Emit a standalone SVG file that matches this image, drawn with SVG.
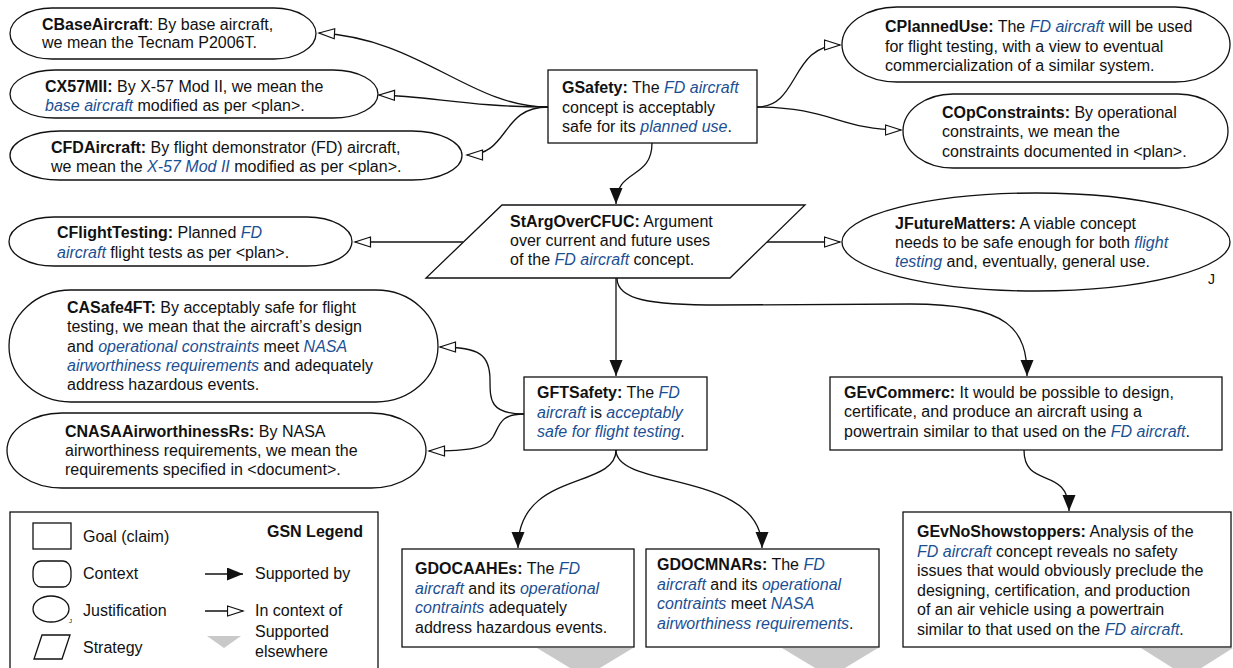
<svg xmlns="http://www.w3.org/2000/svg" width="1233" height="668" viewBox="0 0 1233 668">
<style>
.t{font-family:"Liberation Sans",Arial,Helvetica,sans-serif;font-size:16px;fill:#111}
.b{font-weight:bold}
.i{font-style:italic;fill:#1b4f93}
.n{fill:#fff;stroke:#111;stroke-width:1.3}
.c{fill:none;stroke:#111;stroke-width:1.3}
.g{fill:#c9c9c9;stroke:none}
.s{marker-end:url(#fa)}
.x{marker-end:url(#oa)}
</style>
<defs>
<marker id="fa" markerUnits="userSpaceOnUse" markerWidth="18" markerHeight="15" refX="16" refY="6.5" orient="auto"><path d="M0,0 L16,6.5 L0,13 z" fill="#111"/></marker>
<marker id="oa" markerUnits="userSpaceOnUse" markerWidth="19" markerHeight="13" refX="16.5" refY="6" orient="auto"><path d="M1,1 L16.5,6 L1,11 z" fill="#fff" stroke="#111" stroke-width="1.2"/></marker>
</defs>
<rect width="1233" height="668" fill="#fff"/>

<g id="connectors">
<path class="c x" d="M548,107 C470,107 420,38 319,33"/>
<path class="c x" d="M548,107 C470,107 430,96 379,95"/>
<path class="c x" d="M548,107 C500,107 510,155 467,155"/>
<path class="c x" d="M757,107 C800,107 790,45 840,45"/>
<path class="c x" d="M757,107 C830,107 840,130 901,130"/>
<path class="c s" d="M652,143 C652,180 616,168 616,204"/>
<path class="c x" d="M463,242 L355,242"/>
<path class="c x" d="M767,242 L840,242"/>
<path class="c s" d="M616,278 L616,376"/>
<path class="c s" d="M617,278 C617,300 650,305 720,305 L910,304 C1010,304 1027,330 1027,376"/>
<path class="c x" d="M524,414 C490,414 490,400 490,380 C490,355 480,347 440,347"/>
<path class="c x" d="M524,414 C500,414 500,425 493,437 C487,448 470,451 429,451"/>
<path class="c s" d="M616,450 C616,490 518,470 518,548"/>
<path class="c s" d="M616,450 C616,490 762,470 762,548"/>
<path class="c s" d="M1024,450 C1024,490 1069,465 1069,511"/>
</g>

<g id="CBaseAircraft">
<rect class="n" x="10" y="8" width="306" height="51" rx="42" ry="25.5"/>
<text class="t" x="42" y="30"><tspan class="b">CBaseAircraft</tspan>: By base aircraft,</text>
<text class="t" x="42" y="48">we mean the Tecnam P2006T.</text>
</g>

<g id="CX57MII">
<rect class="n" x="10" y="70" width="368" height="48" rx="45" ry="24"/>
<text class="t" x="45" y="92"><tspan class="b">CX57MII:</tspan> By X-57 Mod II, we mean the</text>
<text class="t" x="45" y="111"><tspan class="i">base aircraft</tspan> modified as per &lt;plan&gt;.</text>
</g>

<g id="CFDAircraft">
<rect class="n" x="10" y="131" width="452" height="49" rx="50" ry="24.5"/>
<text class="t" x="51" y="153"><tspan class="b">CFDAircraft:</tspan> By flight demonstrator (FD) aircraft,</text>
<text class="t" x="51" y="172">we mean the <tspan class="i">X-57 Mod II</tspan> modified as per &lt;plan&gt;.</text>
</g>

<g id="GSafety">
<rect class="n" x="548" y="70" width="209" height="73"/>
<text class="t" x="562" y="93"><tspan class="b">GSafety:</tspan> The <tspan class="i">FD aircraft</tspan></text>
<text class="t" x="562" y="113">concept is acceptably</text>
<text class="t" x="562" y="132">safe for its <tspan class="i">planned use</tspan>.</text>
</g>

<g id="CPlannedUse">
<rect class="n" x="842" y="7" width="388" height="75" rx="55" ry="37.5"/>
<text class="t" x="885" y="32"><tspan class="b">CPlannedUse:</tspan> The <tspan class="i">FD aircraft</tspan> will be used</text>
<text class="t" x="885" y="52">for flight testing, with a view to eventual</text>
<text class="t" x="885" y="71">commercialization of a similar system.</text>
</g>

<g id="COpConstraints">
<rect class="n" x="903" y="94" width="325" height="74" rx="50" ry="37"/>
<text class="t" x="942" y="118"><tspan class="b">COpConstraints:</tspan> By operational</text>
<text class="t" x="942" y="137">constraints, we mean the</text>
<text class="t" x="942" y="157">constraints documented in &lt;plan&gt;.</text>
</g>

<g id="StArgOverCFUC">
<polygon class="n" points="502,205 805,205 730,278 426,278"/>
<text class="t" x="510" y="227"><tspan class="b">StArgOverCFUC:</tspan> Argument</text>
<text class="t" x="510" y="246">over current and future uses</text>
<text class="t" x="510" y="265">of the <tspan class="i">FD aircraft</tspan> concept.</text>
</g>

<g id="CFlightTesting">
<rect class="n" x="9" y="217" width="343" height="49" rx="45" ry="24.5"/>
<text class="t" x="57" y="238"><tspan class="b">CFlightTesting:</tspan> Planned <tspan class="i">FD</tspan></text>
<text class="t" x="57" y="258"><tspan class="i">aircraft</tspan> flight tests as per &lt;plan&gt;.</text>
</g>

<g id="JFutureMatters">
<ellipse class="n" cx="1036" cy="242" rx="194" ry="49"/>
<text class="t" x="895" y="229"><tspan class="b">JFutureMatters:</tspan> A viable concept</text>
<text class="t" x="895" y="248">needs to be safe enough for both <tspan class="i">flight</tspan></text>
<text class="t" x="895" y="267"><tspan class="i">testing</tspan> and, eventually, general use.</text>
<text class="t" x="1208" y="284" style="font-size:14px">J</text>
</g>

<g id="CASafe4FT">
<rect class="n" x="9" y="290" width="429" height="112" rx="62" ry="56"/>
<text class="t" x="67" y="313"><tspan class="b">CASafe4FT:</tspan> By acceptably safe for flight</text>
<text class="t" x="67" y="332">testing, we mean that the aircraft’s design</text>
<text class="t" x="67" y="352">and <tspan class="i">operational constraints</tspan> meet <tspan class="i">NASA</tspan></text>
<text class="t" x="67" y="371"><tspan class="i">airworthiness requirements</tspan> and adequately</text>
<text class="t" x="67" y="390">address hazardous events.</text>
</g>

<g id="CNASAAirworthinessRs">
<rect class="n" x="7" y="413" width="419" height="75" rx="55" ry="37.5"/>
<text class="t" x="65" y="437"><tspan class="b">CNASAAirworthinessRs:</tspan> By NASA</text>
<text class="t" x="65" y="456">airworthiness requirements, we mean the</text>
<text class="t" x="65" y="475">requirements specified in &lt;document&gt;.</text>
</g>

<g id="GFTSafety">
<rect class="n" x="524" y="377" width="183" height="73"/>
<text class="t" x="537" y="398"><tspan class="b">GFTSafety:</tspan> The <tspan class="i">FD</tspan></text>
<text class="t" x="537" y="418"><tspan class="i">aircraft</tspan> is <tspan class="i">acceptably</tspan></text>
<text class="t" x="537" y="437"><tspan class="i">safe for flight testing</tspan>.</text>
</g>

<g id="GEvCommerc">
<rect class="n" x="830" y="377" width="392" height="73"/>
<text class="t" x="844" y="398"><tspan class="b">GEvCommerc:</tspan> It would be possible to design,</text>
<text class="t" x="844" y="417">certificate, and produce an aircraft using a</text>
<text class="t" x="844" y="437">powertrain similar to that used on the <tspan class="i">FD aircraft</tspan>.</text>
</g>

<g id="GDOCAAHEs">
<polygon class="g" points="537,648 633,648 585,677"/>
<rect class="n" x="402" y="549" width="232" height="98"/>
<text class="t" x="415" y="574"><tspan class="b">GDOCAAHEs:</tspan> The <tspan class="i">FD</tspan></text>
<text class="t" x="415" y="594"><tspan class="i">aircraft</tspan> and its <tspan class="i">operational</tspan></text>
<text class="t" x="415" y="613"><tspan class="i">contraints</tspan> adequately</text>
<text class="t" x="415" y="633">address hazardous events.</text>
</g>

<g id="GDOCMNARs">
<polygon class="g" points="782,648 878,648 830,677"/>
<rect class="n" x="646" y="549" width="233" height="98"/>
<text class="t" x="657" y="570"><tspan class="b">GDOCMNARs:</tspan> The <tspan class="i">FD</tspan></text>
<text class="t" x="657" y="590"><tspan class="i">aircraft</tspan> and its <tspan class="i">operational</tspan></text>
<text class="t" x="657" y="609"><tspan class="i">contraints</tspan> meet <tspan class="i">NASA</tspan></text>
<text class="t" x="657" y="629"><tspan class="i">airworthiness requirements</tspan>.</text>
</g>

<g id="GEvNoShowstoppers">
<polygon class="g" points="1141,648 1233,648 1187,677"/>
<rect class="n" x="903" y="512" width="328" height="135"/>
<text class="t" x="917" y="537"><tspan class="b">GEvNoShowstoppers:</tspan> Analysis of the</text>
<text class="t" x="917" y="557"><tspan class="i">FD aircraft</tspan> concept reveals no safety</text>
<text class="t" x="917" y="576">issues that would obviously preclude the</text>
<text class="t" x="917" y="596">designing, certification, and production</text>
<text class="t" x="917" y="615">of an air vehicle using a powertrain</text>
<text class="t" x="917" y="635">similar to that used on the <tspan class="i">FD aircraft</tspan>.</text>
</g>

<g id="legend">
<rect class="n" x="10" y="512" width="368" height="170"/>
<text class="t b" x="363" y="537" text-anchor="end">GSN Legend</text>
<rect class="n" x="33" y="523" width="38" height="26"/>
<text class="t" x="83" y="542">Goal (claim)</text>
<rect class="n" x="33" y="561" width="38" height="26" rx="8" ry="10"/>
<text class="t" x="83" y="579">Context</text>
<ellipse class="n" cx="51" cy="609" rx="18" ry="13"/>
<text class="t" x="69" y="623" style="font-size:6px">J</text>
<text class="t" x="83" y="616">Justification</text>
<polygon class="n" points="42,635 70,635 62,659 34,659"/>
<text class="t" x="83" y="653">Strategy</text>
<path class="c s" d="M205,574 L243,574"/>
<text class="t" x="255" y="579">Supported by</text>
<path class="c x" d="M205,611 L243,611"/>
<text class="t" x="255" y="616">In context of</text>
<polygon class="g" points="207,636 241,636 224,648"/>
<text class="t" x="255" y="637">Supported</text>
<text class="t" x="255" y="657">elsewhere</text>
</g>
</svg>
